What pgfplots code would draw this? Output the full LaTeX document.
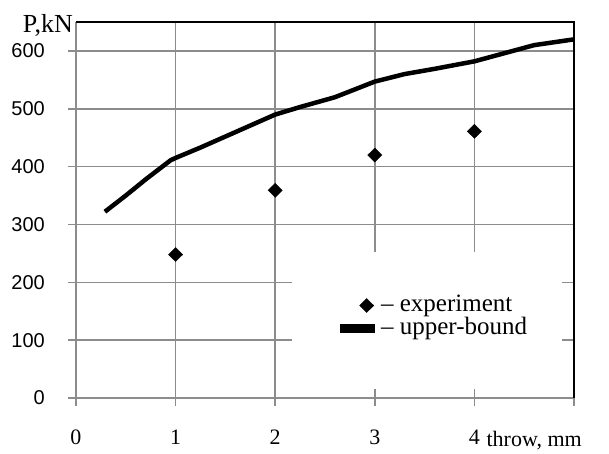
\documentclass[border=0pt]{standalone}
\usepackage{pgfplots}
\pgfplotsset{compat=1.18}
\usepackage{fontspec}
\setmainfont{Liberation Serif}
\newfontfamily\sansf{Liberation Sans}
\definecolor{gridgray}{RGB}{140,140,140}
\begin{document}
\begin{tikzpicture}
\begin{axis}[
  scale only axis, width=498pt, height=376pt,
  xmin=0, xmax=5, ymin=0, ymax=650,
  clip=false,
  xtick={0,1,2,3,4,5}, xticklabels={0,1,2,3,4,},
  ytick={0,100,200,300,400,500,600},
  grid=major,
  grid style={draw=gridgray, line width=1.5pt},
  axis line style={draw=none},
  tick style={draw=gridgray, line width=1.5pt},
  tick align=outside,
  major tick length=8pt,
  xtick pos=bottom, ytick pos=left,
  /pgf/number format/assume math mode=true,
  xticklabel style={anchor=base, inner sep=0pt, yshift=-38pt, font=\fontsize{22}{26}\selectfont},
  yticklabel style={anchor=east, inner sep=0pt, xshift=-23pt, font=\sansf\fontsize{20}{24}\selectfont},
  legend cell align=left,
  legend style={at={(axis cs:2.6,140)}, anchor=west, draw=none, fill=none, inner sep=0pt,
    row sep=0.5pt, column sep=2pt, font=\fontsize{25}{29}\selectfont,
    cells={anchor=west},
    nodes={inner sep=0pt, text height=17pt, text depth=5.5pt}},
]
\fill[white] (axis cs:2.17,15) rectangle (axis cs:4.88,252);
\draw[black, line width=2pt] (rel axis cs:0,1) -- (rel axis cs:1,1) -- (rel axis cs:1,0);
\addplot[only marks, mark=diamond*, mark size=7pt, mark options={xscale=1.35, fill=black, draw=black},
  legend image code/.code={\draw[mark repeat=2, mark phase=2] plot coordinates {(0pt,0pt) (27pt,0pt) (54pt,0pt)};}]
  coordinates {(1,248) (2,359) (3,420) (4,461)};
\addlegendentry{– experiment}
\addplot[black, line width=4.5pt, line join=round,
  legend image code/.code={\draw[line width=9pt] (0pt,0pt) -- (35pt,0pt);}]
  coordinates {(0.29,322) (0.5,350) (0.7,378) (0.95,411) (1.0,415) (1.25,433) (1.5,452) (1.75,471) (2,490) (2.25,503) (2.6,520) (3,547) (3.3,560) (3.6,569) (4,582) (4.3,596) (4.6,610) (5,620)};
\addlegendentry{– upper-bound}
\node[anchor=base east, inner sep=0pt, font=\fontsize{26}{30}\selectfont] at (axis cs:0,650) [xshift=-3pt, yshift=-11pt] {P,kN};
\node[anchor=base west, inner sep=0pt, font=\fontsize{22}{26}\selectfont] at (axis cs:4,0) [xshift=12pt, yshift=-48pt] {throw, mm};
\end{axis}
\pgfresetboundingbox
\path[use as bounding box] (current axis.south west) ++(-76pt,-55pt) rectangle ++(609pt,453pt);
\end{tikzpicture}
\end{document}
